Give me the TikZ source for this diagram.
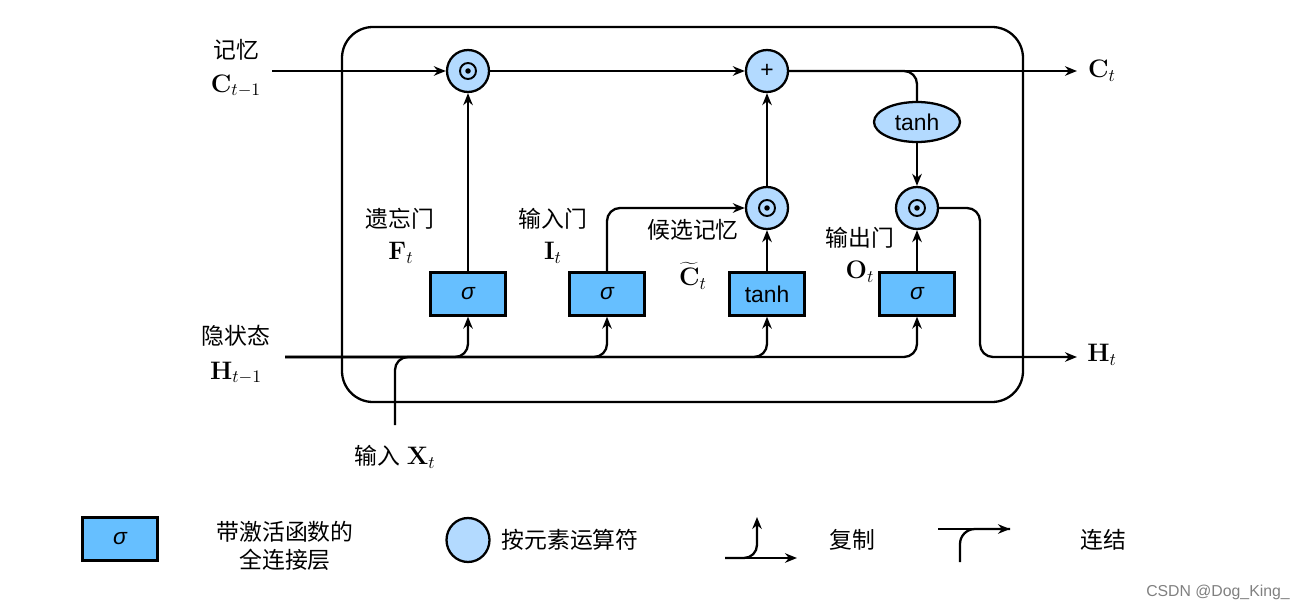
\documentclass[tikz,border=0pt]{standalone}
\usepackage[no-math]{fontspec}
\setmainfont{Liberation Sans}
\newfontfamily\cjk{Noto Sans CJK SC}
\usetikzlibrary{shapes.geometric,arrows.meta}
\definecolor{boxblue}{RGB}{102,191,255}
\definecolor{opblue}{RGB}{179,218,255}
\begin{document}
\begin{tikzpicture}[x=0.02cm,y=-0.02cm,
  line width=1.3pt,
  every node/.style={font=\fontsize{13pt}{16pt}\selectfont},
  arr/.style={-{Stealth[length=0.24cm,width=0.19cm]}},
  rc/.style={rounded corners=0.26cm},
  layer/.style={draw,fill=boxblue,minimum width=1.5cm,minimum height=0.86cm,inner sep=0pt},
  op/.style={draw,circle,fill=opblue,minimum size=0.84cm,inner sep=0pt},
  lbl/.style={font=\fontsize{13pt}{16pt}\selectfont\cjk, inner sep=0pt},
  sym/.style={inner sep=0pt,font=\fontsize{14pt}{16pt}\selectfont}]
\useasboundingbox (0,0) rectangle (1295,608);
% cell boundary
\draw[rounded corners=0.62cm] (342,27) rectangle (1023,402);
% operator nodes
\node[op] (m1) at (468,71) {};
\node[op] (plus) at (767,71) {+};
\node[op] (m2) at (767,208) {};
\node[op] (m3) at (917,208) {};
\foreach \n in {m1,m2,m3}{
  \draw[line width=1.1pt] (\n) circle (0.16cm);
  \fill (\n) circle (0.055cm);
}
\node[draw,ellipse,fill=opblue,minimum width=1.72cm,minimum height=0.8cm,inner sep=0pt] (th) at (917,122) {tanh};
% layers
\node[layer] (bf) at (468,294) {\itshape σ};
\node[layer] (bi) at (607,294) {\itshape σ};
\node[layer] (bt) at (767,294) {tanh};
\node[layer] (bo) at (917,294) {\itshape σ};
% coordinates
\coordinate (cin) at (272,71);
\coordinate (cout) at (1077,71);
\coordinate (hin) at (285,357);
\coordinate (hx) at (980,357);
\coordinate (hout) at (1077,357);
\coordinate (xin) at (395,425);
\coordinate (xj) at (440,357);
% memory line
\draw[arr] (cin) -- (m1.west);
\draw[arr] (m1.east) -- (plus.west);
\draw[arr] (plus.east) -- (cout);
\draw[rc] (plus.east) -| (th.north);
\draw[arr] (th.south) -- (m3.north);
\draw[arr,rc] (m3.east) -| (hx) -- (hout);
% gates
\draw[arr] (bf.north) -- (m1.south);
\draw[arr,rc] (bi.north) |- (m2.west);
\draw[arr] (bt.north) -- (m2.south);
\draw[arr] (m2.north) -- (plus.south);
\draw[arr] (bo.north) -- (m3.south);
% hidden state copies
\draw[arr,rc] (hin) -| (bf.south);
\draw[arr,rc] (hin) -| (bi.south);
\draw[arr,rc] (hin) -| (bt.south);
\draw[arr,rc] (hin) -| (bo.south);
% input concat
\draw[rc] (xin) |- (xj);
% labels
\node[lbl] (l1) at (236,50) {记忆};
\node[sym] (l1b) at (236,86) {$\mathbf{C}_{t-1}$};
\node[lbl] (l2) at (236,336) {隐状态};
\node[sym] (l2b) at (236,373) {$\mathbf{H}_{t-1}$};
\node[lbl] (l3) at (400,219) {遗忘门};
\node[sym] (l3b) at (401,253) {$\mathbf{F}_t$};
\node[lbl] (l4) at (553,219) {输入门};
\node[sym] (l4b) at (553,253) {$\mathbf{I}_t$};
\node[lbl] (l5) at (693,230) {候选记忆};
\node[sym] (l5b) at (693,276) {$\widetilde{\mathbf{C}}_t$};
\node[lbl] (l6) at (860,238) {输出门};
\node[sym] (l6b) at (860,272) {$\mathbf{O}_t$};
\node[sym] (l7) at (395,457) {{\cjk\fontsize{13pt}{16pt}\selectfont 输入}\ $\mathbf{X}_t$};
\node[sym] (l8) at (1102,71) {$\mathbf{C}_t$};
\node[sym] (l9) at (1102,355) {$\mathbf{H}_t$};
% legend
\node[layer] (lgb) at (120,539) {\itshape σ};
\node[lbl,align=center] (lgbt) at (285,546) {带激活函数的\\全连接层};
\node[op,minimum width=0.86cm,minimum height=0.88cm,ellipse] (lgc) at (468,540) {};
\node[lbl] (lgct) at (570,540) {按元素运算符};
\coordinate (c1) at (725,558);
\coordinate (c2) at (797,558);
\coordinate (c3) at (757,517);
\draw[arr] (c1) -- (c2);
\draw[arr,rc] (c1) -| (c3);
\node[lbl] (lgd) at (852,540) {复制};
\coordinate (k1) at (938,529);
\coordinate (k2) at (1010,529);
\coordinate (k3) at (960,562);
\draw[arr] (k1) -- (k2);
\draw[rounded corners=0.3cm] (k3) |- (k2);
\node[lbl] (lgk) at (1103,540) {连结};
\node[inner sep=0pt,text=gray,font=\fontsize{9pt}{11pt}\selectfont] (wm) at (1218,592) {CSDN @Dog\_King\_};
\end{tikzpicture}
\end{document}
